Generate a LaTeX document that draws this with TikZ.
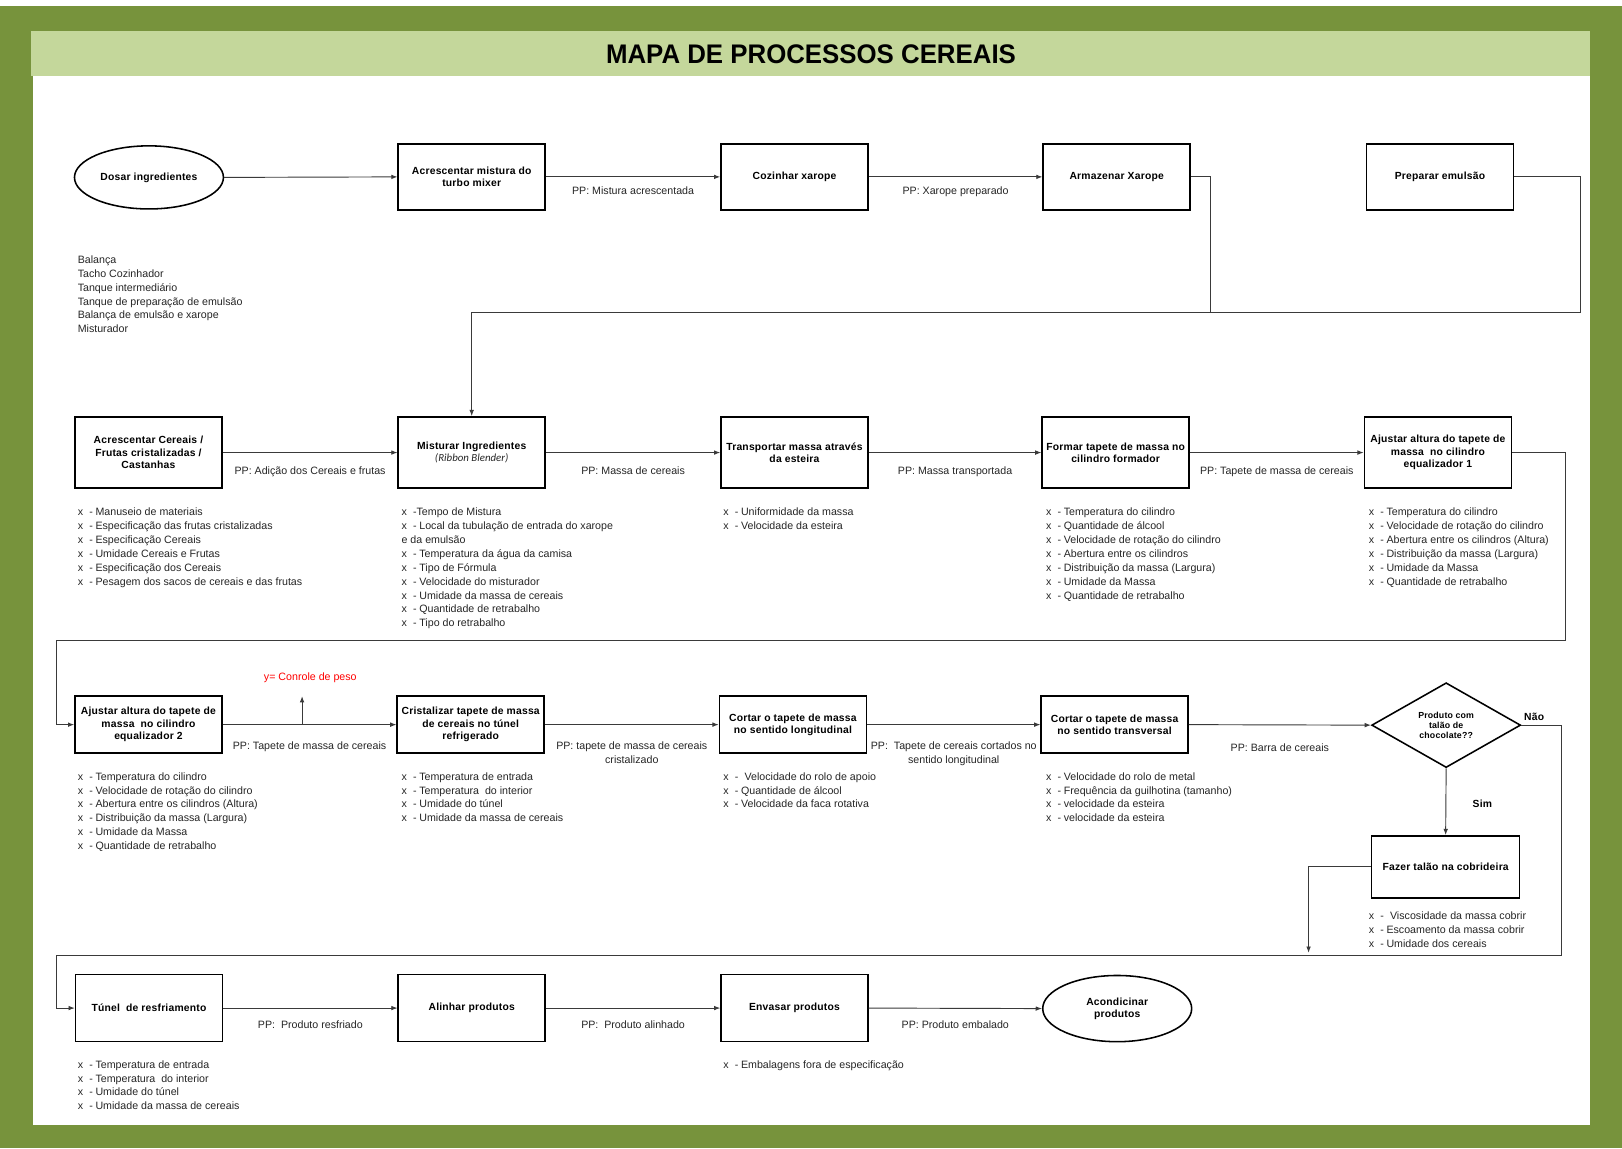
\documentclass[tikz,border=0pt]{standalone}
\usepackage{fontspec}
\setmainfont{Liberation Sans}
\newfontfamily\spacedsans[LetterSpace=2.0]{Liberation Sans}
\newfontfamily\titlesans[FakeStretch=0.96]{Liberation Sans}
\newfontfamily\calib{Carlito}
\usetikzlibrary{arrows.meta,shapes.geometric}

\definecolor{frame}{HTML}{77933C}
\definecolor{band}{HTML}{C4D79B}
\definecolor{wire}{HTML}{3A3A3A}
\definecolor{ink}{HTML}{262626}

% bullet marker used in the parameter lists
\newcommand\bul{x\hspace{6pt}-\hspace{2.6pt}}

\begin{document}
\begin{tikzpicture}[x=1pt,y=-1pt,
  boxfont/.style={font=\spacedsans\bfseries\fontsize{10}{12}\selectfont},
  proc/.style={draw=black, line width=1.5pt, fill=white, minimum width=142pt,
    inner sep=1pt, align=center, boxfont},
  term/.style={ellipse, draw=black, line width=1.5pt, fill=white, minimum width=144pt,
    inner sep=0pt, align=center, boxfont},
  decision/.style={diamond, aspect=1.75, draw=black, line width=1.5pt, fill=white,
    minimum width=144pt, minimum height=82pt, inner sep=0pt, align=center,
    font=\spacedsans\bfseries\fontsize{8.5}{9.8}\selectfont},
  conn/.style={draw=wire, line width=0.9pt},
  arr/.style={conn, -{Latex[length=6pt,width=4.5pt]}},
  pp/.style={midway, anchor=north, inner sep=0pt, yshift=-11pt, align=center,
    text=ink, font=\fontsize{10.3}{13.4}\selectfont},
  lst/.style={anchor=north west, inner sep=0pt, align=left, text=ink,
    font=\fontsize{10.3}{13.4}\selectfont},
  tag/.style={inner sep=0pt, font=\spacedsans\bfseries\fontsize{10}{12}\selectfont}
]
\useasboundingbox (0,0) rectangle (1568,1110);

% frame, header band and sheet
\fill[frame] (0,6) rectangle (1568,1110);
\fill[band] (30,30) rectangle (1537,73);
\fill[white] (32,73) rectangle (1537,1088);
\node[inner sep=0pt, font=\titlesans\bfseries\fontsize{26}{30}\selectfont] (title) at (784,52) {MAPA DE PROCESSOS CEREAIS};

% ---------- row 1 ----------
\node[term, minimum height=61pt] (dosar) at (144,171.5) {Dosar ingredientes};
\node[proc, minimum height=64pt] (acr) at (456,171) {Acrescentar mistura do\\turbo mixer};
\node[proc, minimum height=64pt] (coz) at (768,171) {Cozinhar xarope};
\node[proc, minimum height=64pt] (arm) at (1079.5,171) {Armazenar Xarope};
\node[proc, minimum height=64pt] (prep) at (1392,171) {Preparar emulsão};

\draw[arr] (dosar.east) -- (acr.west);
\draw[arr] (acr.east) -- node[pp, yshift=2pt] {PP: Mistura acrescentada} (coz.west);
\draw[arr] (coz.east) -- node[pp, yshift=2pt] {PP: Xarope preparado} (arm.west);

\node[lst] (equip) at (75,247) {Balança\\Tacho Cozinhador\\Tanque intermediário\\Tanque de preparação de emulsão\\Balança de emulsão e xarope\\Misturador};

% ---------- row 2 ----------
\node[proc, minimum height=69pt] (cer) at (143.5,437.5) {Acrescentar Cereais /\\Frutas cristalizadas /\\Castanhas};
\node[proc, minimum height=69pt] (mist) at (456,437.5) {Misturar Ingredientes\\[0pt]{\calib\itshape\mdseries\fontsize{10.5}{11}\selectfont\color{ink}(Ribbon Blender)}};
\node[proc, minimum height=69pt] (transp) at (768,437.5) {Transportar massa através\\da esteira};
\node[proc, minimum height=69pt] (form) at (1078.5,437.5) {Formar tapete de massa no\\cilindro formador};
\node[proc, minimum height=69pt] (eq1) at (1390,437.5) {Ajustar altura do tapete de\\massa\ \ no cilindro\\equalizador 1};

% syrup and emulsion feed into the mixer
\coordinate (j1) at (1170,302);
\coordinate (j2) at (1528,302);
\draw[arr] (arm.east) -| (j1) -| (mist.north);
\draw[conn] (prep.east) -| (j2) -- (j1);

\draw[arr] (cer.east) -- node[pp, yshift=-2pt] {PP: Adição dos Cereais e frutas} (mist.west);
\draw[arr] (mist.east) -- node[pp, yshift=-2pt] {PP: Massa de cereais} (transp.west);
\draw[arr] (transp.east) -- node[pp, yshift=-2pt] {PP: Massa transportada} (form.west);
\draw[arr] (form.east) -- node[pp, yshift=-2pt] {PP: Tapete de massa de cereais} (eq1.west);

\node[lst] (l-cer) at (75,491) {\bul Manuseio de materiais\\\bul Especificação das frutas cristalizadas\\\bul Especificação Cereais\\\bul Umidade Cereais e Frutas\\\bul Especificação dos Cereais\\\bul Pesagem dos sacos de cereais e das frutas};
\node[lst] (l-mist) at (388,491) {x\hspace{6pt}-Tempo de Mistura\\\bul Local da tubulação de entrada do xarope\\e da emulsão\\\bul Temperatura da água da camisa\\\bul Tipo de Fórmula\\\bul Velocidade do misturador\\\bul Umidade da massa de cereais\\\bul Quantidade de retrabalho\\\bul Tipo do retrabalho};
\node[lst] (l-transp) at (699,491) {\bul Uniformidade da massa\\\bul Velocidade da esteira};
\node[lst] (l-form) at (1011,491) {\bul Temperatura do cilindro\\\bul Quantidade de álcool\\\bul Velocidade de rotação do cilindro\\\bul Abertura entre os cilindros\\\bul Distribuição da massa (Largura)\\\bul Umidade da Massa\\\bul Quantidade de retrabalho};
\node[lst] (l-eq1) at (1323,491) {\bul Temperatura do cilindro\\\bul Velocidade de rotação do cilindro\\\bul Abertura entre os cilindros (Altura)\\\bul Distribuição da massa (Largura)\\\bul Umidade da Massa\\\bul Quantidade de retrabalho};

% ---------- row 3 ----------
\node[proc, minimum height=55pt] (eq2) at (143.5,700.5) {Ajustar altura do tapete de\\massa\ \ no cilindro\\equalizador 2};
\node[proc, minimum height=55pt] (crist) at (455,700.5) {Cristalizar tapete de massa\\de cereais no túnel\\refrigerado};
\node[proc, minimum height=55pt] (clong) at (766.5,700.5) {Cortar o tapete de massa\\no sentido longitudinal};
\node[proc, minimum height=55pt] (ctrans) at (1077.5,700.5) {Cortar o tapete de massa\\no sentido transversal};
\node[decision] (dec) at (1398,701) {Produto com\\talão de\\chocolate??};
\node[proc, minimum width=143pt, minimum height=60pt] (fazer) at (1397.5,838) {Fazer talão na cobrideira};

% return from equalizer 1 to equalizer 2
\coordinate (k1) at (1513,619);
\coordinate (k2) at (55,619);
\draw[arr] (eq1.east) -| (k1) -- (k2) |- (eq2.west);

\draw[arr] (eq2.east) -- node[pp, yshift=-5pt] {PP: Tapete de massa de cereais} (crist.west);
\coordinate (wt) at (292,673);
\draw[arr] (eq2.east -| wt) -- (wt);
\node[inner sep=0pt, text=red, font=\fontsize{10.3}{13.4}\selectfont] (ctl) at (300,655) {y= Conrole de peso};

\draw[arr] (crist.east) -- node[pp, yshift=-5pt] {PP: tapete de massa de cereais\\cristalizado} (clong.west);
\draw[arr] (clong.east) -- node[pp, yshift=-5pt] {PP:\ \ Tapete de cereais cortados no\\sentido longitudinal} (ctrans.west);
\draw[arr] (ctrans.east) -- node[pp, yshift=-7pt] {PP: Barra de cereais} (dec.west);

\draw[arr] (dec.south) -- (fazer.north);
\node[tag] (sim) at (1433,777) {Sim};
\node[tag] (nao) at (1483,693) {Não};

\node[lst] (l-eq2) at (75,746.5) {\bul Temperatura do cilindro\\\bul Velocidade de rotação do cilindro\\\bul Abertura entre os cilindros (Altura)\\\bul Distribuição da massa (Largura)\\\bul Umidade da Massa\\\bul Quantidade de retrabalho};
\node[lst] (l-crist) at (388,746.5) {\bul Temperatura de entrada\\\bul Temperatura\ \ do interior\\\bul Umidade do túnel\\\bul Umidade da massa de cereais};
\node[lst] (l-clong) at (699,746.5) {x\hspace{6pt}-\hspace{6pt}Velocidade do rolo de apoio\\\bul Quantidade de álcool\\\bul Velocidade da faca rotativa};
\node[lst] (l-ctrans) at (1011,746.5) {\bul Velocidade do rolo de metal\\\bul Frequência da guilhotina (tamanho)\\\bul velocidade da esteira\\\bul velocidade da esteira};
\node[lst] (l-fazer) at (1323,881) {x\hspace{6pt}-\hspace{6pt}Viscosidade da massa cobrir\\\bul Escoamento da massa cobrir\\\bul Umidade dos cereais};

% ---------- row 4 ----------
\node[proc, minimum height=65pt] (tunel) at (144,974.5) {Túnel\ \ de resfriamento};
\node[proc, minimum height=65pt] (alin) at (456,974.5) {Alinhar produtos};
\node[proc, minimum height=65pt] (envas) at (768,974.5) {Envasar produtos};
\node[term, minimum height=64pt] (acond) at (1080,975) {Acondicinar\\produtos};

% both branches of the decision lead to the cooling tunnel
\coordinate (n1) at (1509,924);
\coordinate (n2) at (55,924);
\coordinate (f1) at (1265,921);
\draw[arr] (dec.east) -| (n1) -- (n2) |- (tunel.west);
\draw[arr] (fazer.west) -| (f1);

\draw[arr] (tunel.east) -- node[pp, yshift=-1pt] {PP:\ \ Produto resfriado} (alin.west);
\draw[arr] (alin.east) -- node[pp, yshift=-1pt] {PP:\ \ Produto alinhado} (envas.west);
\draw[arr] (envas.east) -- node[pp, yshift=-1pt] {PP: Produto embalado} (acond.west);

\node[lst] (l-tunel) at (75,1025) {\bul Temperatura de entrada\\\bul Temperatura\ \ do interior\\\bul Umidade do túnel\\\bul Umidade da massa de cereais};
\node[lst] (l-envas) at (699,1025) {\bul Embalagens fora de especificação};
\end{tikzpicture}
\end{document}
